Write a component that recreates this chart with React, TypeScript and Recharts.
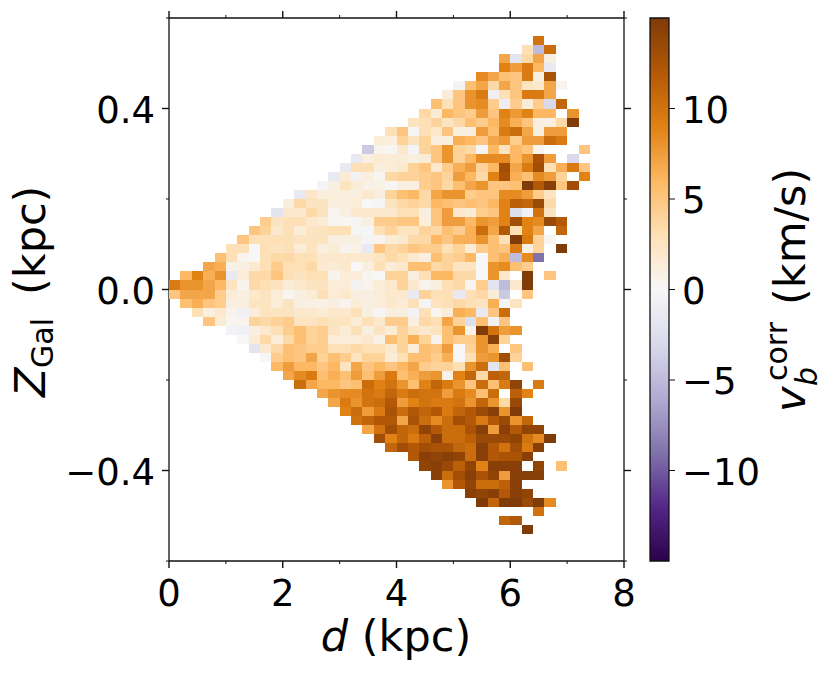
import { ScatterChart, Scatter, XAxis, YAxis, ReferenceArea, Label } from "recharts";

// v_b^corr per bin, [first column, ...values]. null = empty bin. Rows go outward from Z = 0.
const rowsAbovePlane: (number | null)[][] = [
  [0, 9.5, 8, 8, 7, 6, 2.5, 0.5, 3.5, 3, 2.5, 1.5, 2, 2.5, 2.5, 1.5, 1.5, -0.5, 0.5, 1.5, 2, 4, 2, 0.5, 1, 3, 3.5, 0.3, 4.5, -2, -5, 2, 15],
  [1, 6, 9, 6.5, 8, -1.5, 1.5, 3.5, 3.5, 5, 3, 2.5, 3, 3, 0.5, 1.5, 1.5, 0.3, 0, 4, 4, 1, 3, 6, 6, 3.5, 3.5, 0, 8, 2, null, 15, null, 5],
  [3, 7, 6.5, 0.8, 1, 1.8, 3, 4.5, 3, 3, 3.5, 1.8, 1.5, 2, 0, 1, 3, 1.5, 2, 5.5, 5.5, 3.5, 4, 2.5, 2.5, 0, 8, 8.5, 5.5, 4.5],
  [4, 5.5, 3, 0.5, 0, 3, 3.5, 3.5, 3, 3, 2, 2, 2, 2, 2, 2.5, 3.5, 3, 2, 1, 5.5, 4, 4.5, 6, 0, 5.5, 6.5, -5, 8.5, -9],
  [5, 3, 3, 0, 3, 2.5, 3, 1.5, 2.5, 1, 1.5, 0.5, 0.8, -1.5, 5, 3.5, 4, 5, 4.5, 4.5, 3, 4, 1.5, 4.5, 5.5, 5, 9.5, 1, 4, null, 15],
  [6, 5, 3, 3, 3, 3, 2.5, 2.5, 2.5, 1, 1, 1, -0.3, 0.5, 1.5, 2, 3.5, 3.5, 6, 5, 6.5, 6.5, 8, 5.5, 3, 15, 9.5, 4, 0.3],
  [7, 5, 4, 2, 3, 1.5, 2.5, 2.5, 3, 3, -0.2, -0.2, 3, 4, 2.5, 2.5, 4, 3.5, 5.5, 4.5, 6.5, 10.5, 7, 12, 3, 9, 7, null, 11],
  [8, 4.5, 2.5, 3, 3, 2, 1.5, 0.4, 0.3, 0.2, 1, 4.5, 4.5, 5, 5, 1.2, 5, 7.5, 7.5, 6, 8, 7.5, 9, 13, 9, 8.5, 13.5, 12],
  [9, -2, 2, 2, 3.5, 2.5, 0.3, 1, 2, 2, 2, 2, 3, 3, 1, 5, 7.5, 2, 1.5, 4.5, 5, 9, -2.5, -0.5, 10, 2.5],
  [10, 1.2, 3.5, 2.5, 2.5, 1.2, 1.2, 1.5, 0, 0.2, 2.5, 3.5, 4, 3.5, 6, 5.5, 5, 5.5, 5, 6, 9, 11.5, 11, 13.5, 3.5],
  [11, -1.5, 2.2, 1.2, 1.2, 1.2, 1, 2, 1, 4, 5.5, 6, 3.5, 7, 8, 8, 4.5, 5, 5, 8.5, 8.5, 7.5, 4.5, 2.5],
  [13, -0.3, 1, 2.5, 1.5, 0.8, 0.8, 0.2, 1, 1, 4.5, 5, 3.5, 5.5, 7, 8, 5, 5, 5.5, 15, 12, 14.5, 5, 13],
  [14, -1.5, 1.5, -0.5, 1.2, 0.3, 3.5, 4, 4, 4.5, 5, 4, 7.5, 6, 3.5, 9, 12.5, 6.5, 5.5, 8.5, 7.5, 4, null, 9],
  [15, -1.5, 3, 3, 1.2, 1.5, 2, 4, 5, 2, 4.5, 6.5, 7.5, 4, 6, 13, 7, 9.5, 13, 3, 6.5, 9.5, 5],
  [16, -1.5, 1, 1.8, 1.5, 1.5, 1, 1.5, 5, 8, 4, 6, 8.5, 8.5, 8.5, 6, 8, 12.5, 7.5, null, -3],
  [17, -4, 0.5, 0.2, 2, -0.3, 4, 5, 8, 4, 3.5, 0.2, 6, 2.5, 6, 5, 0.3, null, null, null, 5],
  [18, 1.5, 1.2, 4, 2.5, 4, 1.2, 1.2, 6.5, 6, 5, 7, 7.7, 4.5, 7.5, 7.5, 10.5, 9.5],
  [19, 3, 5, 0.2, 3, 2, 5, 1, 1, 7.5, 5.5, 9.5, 10.5, 7, 1, 7.5, 7.5],
  [21, 2.5, 3, 4, 2.5, 3.5, 5.5, 4.5, 6, 8.5, 6.5, 5, 1, 1, 3.5, 15],
  [22, 3.5, 1.5, 6, 5, 4.5, 7.5, 5, 9, 7.7, 9, 6, 6, null, 8],
  [23, 5.5, 3, 5, 8, 8.5, 4.5, -1, 4.5, 1.5, 4.5, -3, 11],
  [24, 1.5, 5, 8, 9.5, -0.7, 3, 5, 9.5, 9.5, 7],
  [25, -0.3, 5.5, 7, 3.5, 7, 5, 2.5, 2, 7, 0.5],
  [27, 8.5, 7, 5.5, 5, 9.5, 1, 12.5],
  [29, 9, 7.5, 9.5, 6, -1.5],
  [29, 7, -2, 3.5, 7, 1],
  [31, 3, -5, 10.5],
  [32, 10],
];

const rowsBelowPlane: (number | null)[][] = [
  [0, 5, 7, 7, 7, 4.5, 1.5, 1, 2, 2.5, 1.5, 0.3, 1, 1.5, 3, 1.5, 2, 1, 1, 1.5, 2, 2, -1.5, 4, 3, 3, -1.5, 3, 3.5, 1.5, -4, null, 5],
  [1, 5.5, 6.5, 5, 4.5, 1, 1, 2.5, 2.5, 1.5, 2.5, 1, 0.8, 0.8, 1, 0.5, 1.5, 1, 1.3, 2, 1.5, 3, -0.3, 2.5, 3, 3.5, 3, 2.5, 6.5, -0.3, 2.5],
  [2, 3, 1, 2, 0.5, -0.7, 1.3, 2.5, 2.5, 2.5, 2, 2, 1.5, 2, 2, 3, 1, -0.2, 1, 1, -0.5, 3, 0.3, 1.5, 6.5, 6, -1.5, 5, 10.5],
  [3, 5, 1.5, 0.3, 0.5, 4, 3.5, 4, 4.5, 2.5, 2.5, 3, 2.5, 2.5, 1.5, 3, 2, 4.5, 4.5, 1, 3.5, 3, 7, 4, -2.5, 5.5, -0.5, 5],
  [5, -0.4, -0.6, 1, 2, 3, 4.5, 5.5, 4, 4.5, 2.5, 1.5, 3, 1, 2.5, 1.5, 4, 2.5, 2, 2.5, 5.5, 8, 0.7, 15, 10, 7.5, 8],
  [6, 0, 1.5, 3.5, 1.5, 3.5, 5.5, 4, 4.5, 1.5, 1.5, 1.5, 2, 0.8, 5.5, 4, 6.5, 4, 0.5, 5.5, 4.5, 4.5, 8, 14.5, 4],
  [7, -2, 2, 3.5, 5.5, 5, 4.5, 4.5, 3, 3, 3.5, 3, 3, 2, 4, 1.5, 5.5, 5, 7.5, 0, 4, 8, 6.5, null, 5],
  [8, -0.1, 4.5, 5.5, 5, 7, 4, 5.5, 4.5, 2.5, 4, 4, 1.5, 3, 5.5, 5.5, 4.5, 6.5, -0.1, 3, 7.5, 8, 13, 4],
  [9, 6, 7.5, 6, 6, 5, 6, 2.5, 7, 5, 6, 5, 6, 7, 4.5, 4, 4, 3, 8, 10.5, -2, 5.5, null, 5.5],
  [10, 7, 8.5, 9.5, 5.5, 6.5, 5.5, 7.5, 5.5, 7.5, 9.5, 5.5, 6.5, 7.5, 8, 0.8, 9, 11, 3.5, 11.5, 11],
  [11, 10.5, 7, 6, 6, 5, 5.5, 10.5, 9, 10, 8, 5.5, 9, 11, 9.5, 8, 5, 10.5, 5.5, 9.5, 14, null, 9.5],
  [13, 7, 8, 8.5, 8.5, 10, 9.5, 11, 9.5, 10.5, 10, 10, 7.5, 9.5, 8.5, 5.5, 10.5, null, 11.5, 9],
  [14, 7, 9.5, 8, 10, 10.5, 12, 7.5, 9, 10, 9.5, 9.5, 10, 8, 11, 8, 3.5, 13.5],
  [15, 9, 10.5, 7.5, 9.5, 12.5, 10.5, 12, 11, 12, 9.5, 11, 12, 13.5, 14.5, 8, 15],
  [16, 10, 11, 12, 12, 7, 12.5, 10.5, 8.5, 10.5, 13, 12, 9.5, 12, 13.5, 8, 11],
  [17, 7, 10, 13, 11, 10.5, 14, 12, 10.5, 10.5, 12.5, 14.5, 7.5, 14.5, 12, 14, 14],
  [18, 13, 9, 11, 9.5, 11.5, 14.5, 10.5, 10.5, 11.5, 13.5, 13.5, 13.5, 14, 10, 8.5, 15],
  [19, 11, 13, 12, 13, 12.5, 12.5, 11, 10.5, 14.5, 12, 10, 13, 9.5, 14.5],
  [21, 12, 14.5, 14, 14.5, 14, 10.5, 14.5, 12, 12.5, 12.5, 14.5],
  [22, 14, 14.5, 13.5, 11.5, 14, 9, 14.5, 14.5, 14.5, null, 14, null, 5.5],
  [23, 14.5, 10.5, 13, 14.5, 12.5, 14, 7.5, 14.5, 14.5, 14.5],
  [24, 8, 12, 14, 10.5, 10.5, 11.5, 14.5],
  [26, 14.5, 14, 14.5, 12, 14.5, 14],
  [27, 15, 11, 15, 15, 13.5, 15, 8.5],
  [32, 10],
  [29, 11, 12],
  [31, 15],
];

const xMajor = [0, 2, 4, 6, 8];
const xTicks = [0, 1, 2, 3, 4, 5, 6, 7, 8];
const zMajor = [-0.4, 0, 0.4];
const zTicks = [-0.6, -0.4, -0.2, 0, 0.2, 0.4, 0.6];
const colorbarTicks = [-10, -5, 0, 5, 10];

// PuOr_r, from -15 to 15
const puOrStops = ["#2d004b", "#542788", "#8073ac", "#b2abd2", "#d8daeb", "#f7f7f7", "#fee0b6", "#fdb863", "#e08214", "#b35806", "#7f3b08"];

const DBIN = 0.2;
const ZBIN = 0.02;
const VMAX = 15;
const CELL_W = 455 / 40;
const CELL_H = 543 / 60;
const FONT = "DejaVu Sans";
const FS = 37;
const LABEL_FS = 43;
const SUB_FS = 30;
const INK = "#111";

const hexRgb = (h: string) => [1, 3, 5].map((i) => parseInt(h.slice(i, i + 2), 16));

const colorFor = (v: number) => {
  const t = Math.min(0.9999, Math.max(0, (v + VMAX) / (2 * VMAX))) * (puOrStops.length - 1);
  const i = Math.floor(t);
  const a = hexRgb(puOrStops[i]);
  const b = hexRgb(puOrStops[i + 1]);
  const c = a.map((x, k) => Math.round(x + (b[k] - x) * (t - i)));
  return `rgb(${c[0]},${c[1]},${c[2]})`;
};

const cells: { d: number; z: number; v: number }[] = [];
const addRows = (rows: (number | null)[][], sign: number) => {
  rows.forEach((row, r) => {
    const first = row[0] as number;
    row.slice(1).forEach((v, i) => {
      if (v === null) return;
      cells.push({ d: (first + i + 0.5) * DBIN, z: sign * (r + 0.5) * ZBIN, v });
    });
  });
};
addRows(rowsAbovePlane, 1);
addRows(rowsBelowPlane, -1);

const HeatCell = (p: any) => {
  const v = p.payload ? p.payload.v : p.v;
  return (
    <rect
      x={p.cx - CELL_W / 2}
      y={p.cy - CELL_H / 2}
      width={CELL_W}
      height={CELL_H}
      fill={colorFor(v)}
      shapeRendering="crispEdges"
    />
  );
};

// axes with no series on them draw no ticks, so these carry an invisible one
const NoMark = () => <g />;

const BottomTick = ({ x, y, payload }: any) => {
  const major = xMajor.includes(payload.value);
  return (
    <g>
      <line x1={x} x2={x} y1={y} y2={y + (major ? 7 : 3)} stroke={INK} strokeWidth={major ? 1.4 : 1} />
      {major && (
        <text x={x} y={y + 45} textAnchor="middle" fontSize={FS} fontFamily={FONT} fill="#000">
          {payload.value}
        </text>
      )}
    </g>
  );
};

const TopTick = ({ x, y, payload }: any) => {
  const major = xMajor.includes(payload.value);
  return <line x1={x} x2={x} y1={y} y2={y - (major ? 7 : 3)} stroke={INK} strokeWidth={major ? 1.4 : 1} />;
};

const zLabel = (v: number) => (v === 0 ? "0.0" : v < 0 ? `\u2212${Math.abs(v).toFixed(1)}` : v.toFixed(1));
const isZMajor = (v: number) => zMajor.some((m) => Math.abs(m - v) < 1e-6);

const LeftTick = ({ x, y, payload }: any) => {
  const major = isZMajor(payload.value);
  return (
    <g>
      <line x1={x} x2={x - (major ? 7 : 3)} y1={y} y2={y} stroke={INK} strokeWidth={major ? 1.4 : 1} />
      {major && (
        <text x={x - 14} y={y + 14} textAnchor="end" fontSize={FS} fontFamily={FONT} fill="#000">
          {zLabel(payload.value)}
        </text>
      )}
    </g>
  );
};

const RightTick = ({ x, y, payload }: any) => {
  const major = isZMajor(payload.value);
  return <line x1={x} x2={x + (major ? 7 : 3)} y1={y} y2={y} stroke={INK} strokeWidth={major ? 1.4 : 1} />;
};

const CbarTick = ({ x, y, payload }: any) => (
  <g>
    <line x1={x} x2={x + 6} y1={y} y2={y} stroke={INK} strokeWidth={1} />
    <text x={x + 13} y={y + 14} fontSize={FS} fontFamily={FONT} fill="#000">
      {payload.value < 0 ? `\u2212${Math.abs(payload.value)}` : payload.value}
    </text>
  </g>
);

const axisLine = { stroke: INK, strokeWidth: 1.3 };

export default function App() {
  return (
    <div style={{ position: "absolute", left: 0, top: 0, width: 830, height: 674, background: "#fff" }}>
      <div style={{ position: "absolute", left: 0, top: 0 }}>
        <ScatterChart width={640} height={674} margin={{ top: 12, right: 10, bottom: 0, left: 0 }}>
          <XAxis
            xAxisId="bottom"
            type="number"
            dataKey="d"
            domain={[0, 8]}
            ticks={xTicks}
            interval={0}
            orientation="bottom"
            height={113}
            tickSize={0}
            tickMargin={0}
            tickLine={false}
            axisLine={axisLine}
            tick={<BottomTick />}
          >
            <Label
              content={() => (
                <text x={396} y={651} textAnchor="middle" fontSize={LABEL_FS} fontFamily={FONT} fill="#000">
                  <tspan fontStyle="italic">d</tspan> (kpc)
                </text>
              )}
            />
          </XAxis>
          <XAxis
            xAxisId="top"
            type="number"
            dataKey="d"
            domain={[0, 8]}
            ticks={xTicks}
            interval={0}
            orientation="top"
            height={6}
            tickSize={0}
            tickMargin={0}
            tickLine={false}
            axisLine={axisLine}
            tick={<TopTick />}
          />
          <YAxis
            yAxisId="left"
            type="number"
            dataKey="z"
            domain={[-0.6, 0.6]}
            ticks={zTicks}
            interval={0}
            width={169}
            tickSize={0}
            tickMargin={0}
            tickLine={false}
            axisLine={axisLine}
            tick={<LeftTick />}
          >
            <Label
              content={() => (
                <g fontFamily={FONT} fill="#000">
                  <text transform="translate(45,397) rotate(-90)" fontSize={LABEL_FS} fontStyle="italic">Z</text>
                  <text transform="translate(53,368) rotate(-90)" fontSize={SUB_FS}>Gal</text>
                  <text transform="translate(45,295) rotate(-90)" fontSize={LABEL_FS}>(kpc)</text>
                </g>
              )}
            />
          </YAxis>
          <YAxis
            yAxisId="right"
            type="number"
            dataKey="z"
            domain={[-0.6, 0.6]}
            ticks={zTicks}
            interval={0}
            orientation="right"
            width={6}
            tickSize={0}
            tickMargin={0}
            tickLine={false}
            axisLine={axisLine}
            tick={<RightTick />}
          />
          <Scatter
            xAxisId="bottom"
            yAxisId="left"
            data={cells}
            shape={HeatCell}
            isAnimationActive={false}
          />
          <Scatter xAxisId="top" yAxisId="right" data={cells.slice(0, 1)} shape={NoMark} isAnimationActive={false} />
        </ScatterChart>
      </div>
      <div style={{ position: "absolute", left: 640, top: 0 }}>
        <ScatterChart width={190} height={674} margin={{ top: 18, right: 0, bottom: 113, left: 10 }}>
          <defs>
            <linearGradient id="cbar" x1="0" y1="1" x2="0" y2="0">
              {puOrStops.map((c, i) => (
                <stop key={c} offset={i / (puOrStops.length - 1)} stopColor={c} />
              ))}
            </linearGradient>
          </defs>
          <XAxis xAxisId="cb" type="number" dataKey="x" domain={[0, 1]} hide />
          <YAxis
            yAxisId="cb"
            type="number"
            dataKey="v"
            domain={[-VMAX, VMAX]}
            ticks={colorbarTicks}
            interval={0}
            orientation="right"
            width={161}
            tickSize={0}
            tickMargin={0}
            tickLine={false}
            axisLine={false}
            tick={<CbarTick />}
          >
            <Label
              content={() => (
                <g fontFamily={FONT} fill="#000">
                  <text transform="translate(165,412) rotate(-90)" fontSize={LABEL_FS} fontStyle="italic">v</text>
                  <text transform="translate(147,381) rotate(-90)" fontSize={SUB_FS}>corr</text>
                  <text transform="translate(177,386) rotate(-90)" fontSize={SUB_FS} fontStyle="italic">b</text>
                  <text transform="translate(165,305) rotate(-90)" fontSize={LABEL_FS}>(km/s)</text>
                </g>
              )}
            />
          </YAxis>
          <ReferenceArea
            xAxisId="cb"
            yAxisId="cb"
            x1={0}
            x2={1}
            y1={-VMAX}
            y2={VMAX}
            fill="url(#cbar)"
            fillOpacity={1}
            stroke={INK}
            strokeWidth={1.3}
          />
          <Scatter
            xAxisId="cb"
            yAxisId="cb"
            data={colorbarTicks.map((v) => ({ x: 0.5, v }))}
            shape={NoMark}
            isAnimationActive={false}
          />
        </ScatterChart>
      </div>
    </div>
  );
}
